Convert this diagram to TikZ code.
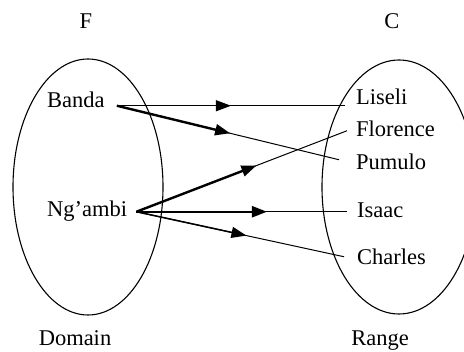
\documentclass[tikz,border=0pt]{standalone}
\usepackage{fontspec}
\setmainfont{Liberation Serif}
\usetikzlibrary{arrows.meta,shapes.geometric}
\begin{document}
\begin{tikzpicture}[x=1pt,y=-1pt,
  lbl/.style={inner sep=0pt, anchor=base west, font=\fontsize{22.5}{26}\selectfont,
              text height=0.7em, text depth=0.25em},
  ttl/.style={inner sep=0pt, anchor=base, font=\fontsize{22.5}{26}\selectfont},
  setshape/.style={draw, ellipse, line width=1.1pt, inner sep=0pt},
  thinline/.style={line width=1pt},
  tipthin/.style={line width=1pt, -{Triangle[length=15pt,width=11pt]}},
  tipmid/.style={line width=1.5pt, -{Triangle[length=15pt,width=11pt]}},
  tipthick/.style={line width=2.4pt, -{Triangle[length=15pt,width=11pt]}}]
\useasboundingbox (0,0) rectangle (464,352);

% sets
\node[setshape, minimum width=150pt, minimum height=256pt] (dom) at (88,187) {};
\node[setshape, minimum width=154pt, minimum height=254pt] (rng) at (399,187) {};

% titles
\node[ttl] (F) at (86,29) {F};
\node[ttl] (C) at (392,29) {C};
\node[ttl] (domain) at (75,346) {Domain};
\node[ttl] (range) at (380,346) {Range};

% elements
\node[lbl] (banda) at (47,108) {Banda};
\node[lbl] (ngambi) at (47,217) {Ng’ambi};
\node[lbl] (liseli) at (356,105) {Liseli};
\node[lbl] (florence) at (356,137) {Florence};
\node[lbl] (pumulo) at (356,170) {Pumulo};
\node[lbl] (isaac) at (357,218) {Isaac};
\node[lbl] (charles) at (357,265) {Charles};

% connector ends
\coordinate (bOut) at ([xshift=12pt]banda.east);
\coordinate (nOut) at ([xshift=9pt,yshift=3pt]ngambi.east);
\coordinate (lIn) at ([xshift=-11pt,yshift=-3pt]liseli.west);
\coordinate (fIn) at ([xshift=-9pt,yshift=4pt]florence.west);
\coordinate (pIn) at ([xshift=-17pt,yshift=8pt]pumulo.west);
\coordinate (iIn) at ([xshift=-10pt,yshift=4pt]isaac.west);
\coordinate (cIn) at ([xshift=-13pt,yshift=6pt]charles.west);

% Banda -> Liseli
\draw[thinline] (bOut) -- coordinate[pos=0.5] (m1) (lIn);
\draw[tipthin] (bOut) -- (m1);
% Banda -> Pumulo
\draw[thinline] (bOut) -- coordinate[pos=0.51] (m2) (pIn);
\draw[tipthick] (bOut) -- (m2);
% Ng'ambi -> Florence
\draw[thinline] (nOut) -- coordinate[pos=0.57] (m3) (fIn);
\draw[tipthick] (nOut) -- (m3);
% Ng'ambi -> Isaac
\draw[thinline] (nOut) -- coordinate[pos=0.62] (m4) (iIn);
\draw[tipthick] (nOut) -- (m4);
% Ng'ambi -> Charles
\draw[thinline] (nOut) -- coordinate[pos=0.53] (m5) (cIn);
\draw[tipmid] (nOut) -- (m5);
\end{tikzpicture}
\end{document}
